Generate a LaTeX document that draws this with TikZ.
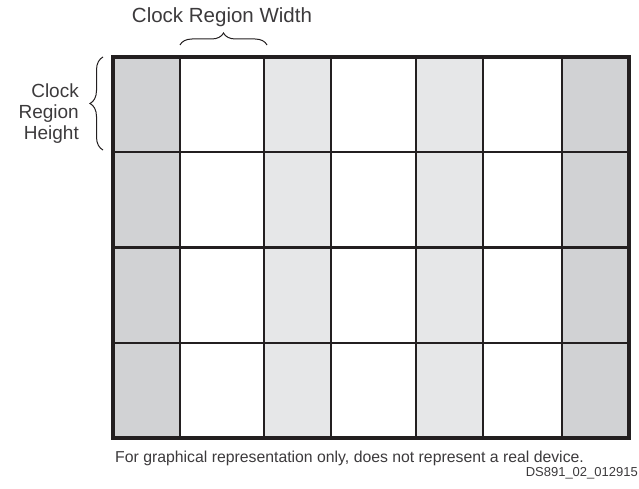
\documentclass[tikz,border=0pt]{standalone}
\usepackage{fontspec}
\setmainfont{Liberation Sans}
\usetikzlibrary{decorations.pathreplacing}
\definecolor{schrift}{RGB}{60,58,60}
\definecolor{linie}{RGB}{35,31,32}
\definecolor{randsp}{RGB}{209,210,212}
\definecolor{mittesp}{RGB}{230,231,232}
\tikzset{
  titel/.style={text=schrift, inner sep=0pt, font=\fontsize{20.5}{22}\selectfont},
  seite/.style={text=schrift, inner sep=0pt, align=right, font=\fontsize{19}{21}\selectfont},
  fuss/.style={text=schrift, inner sep=0pt, font=\fontsize{15.8}{18}\selectfont},
  kennung/.style={text=schrift, inner sep=0pt, font=\fontsize{13}{15}\selectfont},
  klammer/.style={draw=linie, line width=1pt, decorate, decoration={brace, amplitude=#1}},
  gitter/.style={draw=linie, line width=2.6pt},
  rahmen/.style={draw=linie, line width=3.2pt}
}

\begin{document}
\begin{tikzpicture}[x=1pt, y=-1pt]
\useasboundingbox (0,0) rectangle (639,489);

% Spalten
\foreach \xa/\xb/\farbe in {113/180/randsp, 180/264/white, 264/331/mittesp, 331/416/white, 416/483/mittesp, 483/562/white, 562/629/randsp}
  {\fill[\farbe] (\xa,57) rectangle (\xb,438);}

% Gitterlinien
\foreach \x in {180,264,331,416,483,562}{\draw[gitter] (\x,57) -- (\x,438);}
\foreach \y in {152,247.5,343}{\draw[gitter] (113,\y) -- (629,\y);}
\draw[rahmen] (113,57) rectangle (629,438);

% Klammern
\coordinate (breite-a) at (180,45);
\coordinate (breite-b) at (267,45);
\coordinate (hoehe-a) at (103,150);
\coordinate (hoehe-b) at (103,57);
\draw[klammer=12pt] (breite-a) -- (breite-b);
\draw[klammer=13pt] (hoehe-a) -- (hoehe-b);

% Texte
\node[titel] (breite) at (222,17) {Clock Region Width};
\node[seite, anchor=east] (hoehe) at (79,114) {Clock\\Region\\Height};
\node[fuss, anchor=west] (hinweis) at (115,458) {For graphical representation only, does not represent a real device.};
\node[kennung, anchor=east] (nummer) at (638,473) {DS891\_02\_012915};

\end{tikzpicture}
\end{document}
